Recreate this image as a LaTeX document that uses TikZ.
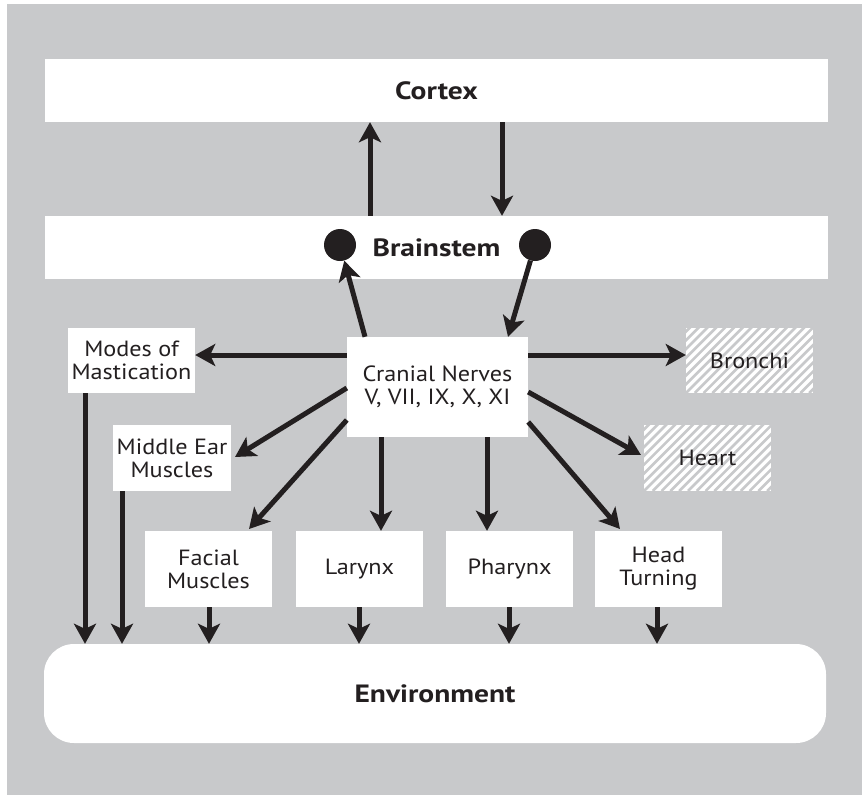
\documentclass[tikz,border=0pt]{standalone}
\usepackage{fontspec}
\setmainfont{PT Sans}[FakeStretch=1.1]
\newfontfamily\heavyfont{PT Sans Bold}[FakeStretch=1.18]
\usetikzlibrary{arrows.meta}
\definecolor{bggray}{RGB}{200,201,203}
\definecolor{ink}{RGB}{35,31,32}
\begin{document}
\begin{tikzpicture}[x=1pt,y=-1pt,
  box/.style={fill=white, draw=none, inner sep=0pt, align=center, text=ink,
    font=\fontsize{22}{23}\selectfont},
  bigbox/.style={box, font=\fontsize{25}{28}\heavyfont},
  hatchbox/.style={box, path picture={
    \foreach \i in {-12,...,20}
      \draw[bggray, line width=2.6pt]
        ([xshift=\i*8.8pt]path picture bounding box.south west) -- ++(120pt,120pt);}},
  dotnode/.style={circle, fill=ink, minimum size=32pt, inner sep=0pt},
  arr/.style={draw=ink, line width=5pt,
    -{Stealth[length=20pt, width=22pt, inset=5pt]}},
]
\useasboundingbox (0,0) rectangle (862,795);
\fill[bggray] (7,4) rectangle (862,795);

% main boxes
\node[bigbox, minimum width=783pt, minimum height=63pt] (cortex) at (436.5,90.5) {Cortex};
\node[bigbox, minimum width=783pt, minimum height=63pt] (brainstem) at (436.5,247.5) {Brainstem};
\node[bigbox, minimum width=782pt, minimum height=99pt, rounded corners=30pt] (env) at (435,693.5) {Environment};

\node[dotnode] (dotL) at (340,245) {};
\node[dotnode] (dotR) at (535,245) {};

\node[box, minimum width=181pt, minimum height=100pt] (cranial) at (437.5,387) {Cranial Nerves\\V, VII, IX, X, XI};
\node[box, minimum width=127pt, minimum height=65pt] (modes) at (131.5,360.5) {Modes of\\Mastication};
\node[box, minimum width=118pt, minimum height=66pt] (middle) at (172,458) {Middle Ear\\Muscles};
\node[hatchbox, minimum width=127pt, minimum height=65pt] (bronchi) at (749.5,360.5) {Bronchi};
\node[hatchbox, minimum width=127pt, minimum height=66pt] (heart) at (707.5,458) {Heart};
\node[box, minimum width=127pt, minimum height=76pt] (facial) at (208.5,569) {Facial\\Muscles};
\node[box, minimum width=127pt, minimum height=76pt] (larynx) at (359.5,569) {Larynx};
\node[box, minimum width=127pt, minimum height=76pt] (pharynx) at (509.5,569) {Pharynx};
\node[box, minimum width=127pt, minimum height=76pt] (head) at (658.5,569) {Head\\Turning};

% cortex <-> brainstem
\draw[arr] (brainstem.north -| 370,0) -- (cortex.south -| 370,0);
\draw[arr] (cortex.south -| 502,0) -- (brainstem.north -| 502,0);

% brainstem dots <-> cranial nerves
\draw[arr] (cranial.north -| 365,0) -- (dotL);
\draw[arr] (dotR) -- (cranial.north -| 508,0);

% cranial nerves outputs
\draw[arr] (cranial.west |- 0,355) -- (modes.east |- 0,355);
\draw[arr] (cranial.west |- 0,388) -- (235,457);
\draw[arr] (cranial.west |- 0,420) -- (249,529);
\draw[arr] (cranial.south -| 381,0) -- (larynx.north -| 381,0);
\draw[arr] (cranial.south -| 487,0) -- (pharynx.north -| 487,0);
\draw[arr] (cranial.east |- 0,422) -- (620,529);
\draw[arr] (cranial.east |- 0,392) -- (641,455);
\draw[arr] (cranial.east |- 0,355) -- (bronchi.west |- 0,355);

% to environment
\draw[arr] (modes.south -| 85,0) -- (env.north -| 85,0);
\draw[arr] (middle.south -| 122,0) -- (env.north -| 122,0);
\draw[arr] (facial.south -| 209,0) -- (env.north -| 209,0);
\draw[arr] (larynx.south -| 359,0) -- (env.north -| 359,0);
\draw[arr] (pharynx.south -| 509,0) -- (env.north -| 509,0);
\draw[arr] (head.south -| 657,0) -- (env.north -| 657,0);
\end{tikzpicture}
\end{document}
